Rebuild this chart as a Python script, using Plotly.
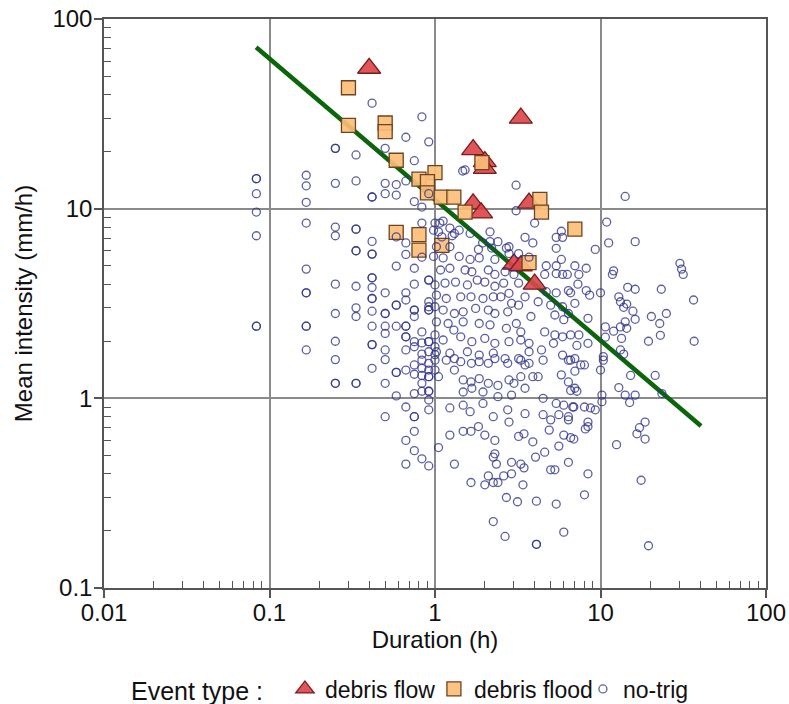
import plotly.graph_objects as go

# ---------------- data ----------------
# Debris-flow events (duration h, mean intensity mm/h)
flow_duration = [0.4, 3.3, 1.7, 2.0, 2.0, 1.7, 1.9, 3.7, 3.0, 3.3, 4.0]
flow_intensity = [55, 30, 20.5, 17.7, 16.3, 10.6, 9.5, 10.7, 5.1, 5.0, 4.0]

# Debris-flood events
flood_duration = [0.3, 0.3, 0.5, 0.5, 0.583, 0.8, 1.0, 0.9, 0.9, 1.09, 1.3, 1.52,
                  1.92, 4.3, 4.4, 7.0, 0.583, 0.8, 0.8, 1.1, 3.7]
flood_intensity = [43.4, 27.5, 28.3, 25.5, 18.0, 14.3, 15.5, 13.9, 12.1, 11.5, 11.5, 9.6,
                   17.5, 11.2, 9.6, 7.8, 7.5, 7.3, 6.05, 6.4, 5.2]

# No-trigger events with short (5-minute step) durations: duration -> intensities
notrig_columns = {
    0.0833: [14.4, 14.4, 12, 9.6, 7.2, 2.4, 2.4],
    0.1667: [15, 13.2, 10.8, 8.4, 4.8, 3.6, 3.6, 2.4, 2.4, 1.8],
    0.25: [20.8, 20.8, 13.6, 8.0, 7.2, 4.0, 2.8, 2.0, 1.6, 1.2, 1.2],
    0.3333: [19.2, 14.0, 7.8, 7.8, 6.0, 6.0, 3.9, 3.0, 2.7, 1.2, 1.2],
    0.4167: [36, 11.52, 11.52, 6.72, 5.76, 5.76, 4.32, 4.32, 3.84, 3.36, 3.36, 2.88,
             2.4, 1.92, 1.92, 1.44],
    0.5: [20.8, 13.6, 12.0, 3.6, 2.8, 2.8, 2.4, 2.2, 1.8, 1.6, 1.2, 0.8],
    0.5833: [13.4, 11.8, 7.1, 4.98, 3.1, 3.1, 2.4, 1.37, 1.37, 1.03],
    0.6667: [23.8, 14.0, 6.6, 5.74, 3.6, 3.3, 2.4, 2.4, 2.11, 2.11, 1.8, 1.41, 0.9, 0.6, 0.45],
    0.75: [17.9, 10.9, 4.85, 4.0, 2.92, 2.92, 2.7, 1.99, 1.87, 1.50, 1.34, 1.06, 0.8, 0.8,
           0.67, 0.53],
    0.8333: [30.5, 10.2, 8.4, 5.55, 2.24, 1.96, 1.71, 1.59, 1.44, 1.32, 1.2, 1.09, 0.48],
    0.9167: [22.5, 12.0, 4.2, 4.2, 3.23, 3.04, 2.92, 2.92, 1.99, 1.99, 1.76, 1.53, 1.41,
             1.30, 1.30, 1.09, 1.09, 0.98, 0.87, 0.44],
    1.0: [8.4, 3.96, 3.04, 1.87, 1.7, 1.59, 1.41],
}

# No-trigger events, durations 1-10 h (duration, intensity)
notrig_mid = [
    (1.05, 0.55), (1.47, 15.8), (1.52, 16.0), (3.09, 13.3), (3.09, 9.75),
    (5.4, 7.06), (5.9, 7.06), (4.0, 8.4), (2.15, 7.55), (3.5, 7.06), (3.9, 6.6), (5.4, 6.18), (5.8, 7.6),
    (1.12, 8.6), (1.07, 8.4), (1.23, 7.9), (1.05, 7.55), (0.98, 7.7), (1.1, 7.1), (1.27, 7.2), (1.31, 7.4),
    (1.40, 7.7), (1.63, 7.4), (1.94, 6.6), (2.15, 6.7), (2.4, 6.7), (2.7, 6.2), (2.8, 6.3), (2.2, 6.2),
    (1.83, 6.1), (1.23, 6.3), (1.02, 6.3),
    (0.98, 5.6), (1.12, 5.5), (1.40, 5.6), (1.63, 5.4), (1.85, 5.5), (2.3, 5.4), (2.8, 5.8), (3.2, 5.8),
    (3.7, 5.55), (4.7, 5.0), (5.4, 5.0), (5.8, 5.4), (6.3, 4.5), (7.0, 5.0), (5.4, 4.55), (5.9, 4.5),
    (1.08, 4.75), (1.23, 4.85), (1.52, 4.75), (1.67, 4.65), (2.1, 4.75), (2.3, 4.5), (2.65, 4.65),
    (3.0, 4.5), (4.6, 4.5),
    (1.15, 4.05), (1.33, 4.1), (1.57, 3.96), (1.8, 4.2), (2.0, 4.1), (2.3, 3.9), (2.6, 4.05), (3.2, 4.05),
    (4.7, 3.65), (5.4, 3.6), (6.4, 3.7),
    (1.02, 3.5), (1.17, 3.36), (1.43, 3.43), (1.65, 3.43), (1.95, 3.36), (2.25, 3.43), (2.5, 3.43),
    (2.8, 3.58), (3.5, 3.43), (4.2, 3.23), (5.0, 3.1), (5.9, 3.04), (7.0, 3.17),
    (1.12, 2.92), (1.31, 2.8), (1.48, 2.86), (1.76, 2.98), (2.1, 2.92), (2.3, 2.8), (2.75, 2.86),
    (2.9, 3.17), (3.2, 3.1), (3.8, 2.7), (5.3, 2.75), (6.0, 2.6),
    (1.02, 2.53), (1.2, 2.48), (1.3, 2.29), (1.48, 2.53), (1.85, 2.48), (2.15, 2.44), (2.7, 2.34),
    (3.1, 2.48), (3.3, 2.24), (4.6, 2.24), (5.3, 2.16), (5.9, 2.11), (6.6, 2.16), (7.4, 2.16),
    (1.0, 2.16), (1.12, 2.03), (1.43, 2.11), (1.67, 1.99), (2.0, 2.07), (2.3, 1.95), (2.8, 1.99),
    (3.3, 2.03), (3.7, 1.95), (4.4, 1.8), (5.2, 1.95),
    (1.02, 1.76), (1.23, 1.73), (1.57, 1.76), (1.85, 1.69), (2.25, 1.73), (2.65, 1.62), (3.2, 1.62),
    (3.7, 1.76), (5.9, 1.69), (7.0, 1.62),
    (1.66, 1.53), (2.75, 1.53), (3.7, 1.53),
    (1.17, 1.59), (1.31, 1.62), (1.43, 1.56), (1.31, 1.41), (1.05, 1.30),
    (1.85, 1.56), (2.1, 1.53), (2.3, 1.62), (3.3, 1.59), (3.5, 1.5), (4.5, 1.59), (6.4, 1.59),
    (1.48, 1.25), (1.65, 1.22), (1.85, 1.27), (2.1, 1.2), (2.4, 1.17), (2.8, 1.25), (3.0, 1.2),
    (3.3, 1.3), (3.9, 1.3), (4.2, 1.3), (5.8, 1.33), (6.4, 1.22), (7.0, 1.13),
    (1.48, 1.08), (1.67, 1.13), (1.95, 1.08), (2.4, 1.02), (2.9, 1.04), (3.5, 1.13), (4.5, 1.0),
    (5.4, 0.94), (6.0, 0.92),
    (1.23, 0.89), (1.48, 0.92), (1.63, 0.85), (1.95, 0.94), (2.25, 0.8), (2.75, 0.87), (2.8, 0.75),
    (3.5, 0.83), (4.5, 0.82), (5.0, 0.77), (5.6, 0.82), (6.4, 0.77), (6.8, 0.9),
    (1.23, 0.64), (1.48, 0.67), (1.65, 0.67), (1.83, 0.71), (2.0, 0.64), (2.3, 0.6), (3.2, 0.63),
    (3.45, 0.65), (3.9, 0.59), (4.9, 0.68), (5.6, 0.56), (6.0, 0.64), (6.9, 0.61),
    (2.3, 0.51), (2.25, 0.49), (2.35, 0.45), (2.9, 0.46), (3.3, 0.45), (3.45, 0.43), (4.05, 0.49),
    (4.6, 0.52), (5.0, 0.42), (5.3, 0.42), (6.4, 0.46), (1.31, 0.45),
    (1.65, 0.36), (2.1, 0.39), (2.0, 0.35), (2.25, 0.36), (2.4, 0.36), (2.6, 0.39), (2.9, 0.40),
    (3.4, 0.35),
    (2.7, 0.30), (3.15, 0.285), (4.1, 0.287), (5.4, 0.277), (2.25, 0.224), (2.65, 0.187),
    (4.1, 0.17), (4.1, 0.17), (6.0, 0.197),
]

# No-trigger events, long durations
notrig_long = [
    (14.1, 11.6), (10.9, 8.5), (11.2, 6.6), (16.2, 6.7), (9.3, 6.1), (30.2, 5.15), (30.9, 4.8),
    (31.6, 4.5), (12.0, 4.7), (11.8, 4.5), (8.2, 4.85), (7.4, 4.5), (7.3, 4.0), (14.6, 3.85),
    (16.2, 3.76), (23.3, 3.76), (10, 3.6), (8.2, 3.7), (8.6, 3.5), (6.6, 3.6), (12.9, 3.43),
    (13.2, 3.23), (14.4, 3.14), (13.8, 3.02), (15.7, 2.88), (16.2, 2.61), (36.5, 3.3), (20.3, 2.7),
    (22.8, 2.48), (25, 2.8), (23, 2.15), (8.4, 2.64), (6.4, 2.8), (10.7, 2.38), (12.0, 2.26),
    (14.1, 2.53), (13.2, 2.38), (14.4, 2.34), (13.4, 2.07), (19.5, 2.0), (36.8, 2.0), (8.4, 1.95),
    (7.2, 1.9), (10.7, 2.1), (13.2, 1.8), (13.8, 1.71), (10.4, 1.66), (10.4, 1.59),
    (6.6, 1.59), (7.0, 1.39), (7.6, 1.50), (8.0, 1.50), (10, 1.41),
    (6.6, 1.1), (7.2, 1.09), (6.9, 0.9), (8.0, 0.9), (8.7, 0.89), (9.3, 0.87), (6.4, 0.8),
    (10.2, 1.04), (10.2, 0.96), (12.9, 1.14), (14.1, 1.04), (16.2, 1.04), (15, 0.95), (15.2, 1.32),
    (21.4, 1.32), (23.5, 1.06), (18.6, 0.75), (17.2, 0.70), (16.6, 0.65), (18.6, 0.61), (12.5, 0.57),
    (8.4, 0.75), (8.1, 0.69), (8.4, 0.71), (6.6, 0.62), (8.4, 0.40), (8.0, 0.31), (17.6, 0.37),
    (19.5, 0.167),
]

# Threshold line end points
threshold_duration = [0.083, 40.5]
threshold_intensity = [71, 0.714]

x_tick_vals = [0.01, 0.1, 1, 10, 100]
x_tick_text = ["0.01", "0.1", "1", "10", "100"]
y_tick_vals = [0.1, 1, 10, 100]
y_tick_text = ["0.1", "1", "10", "100"]

# ---------------- build ----------------
notrig_duration = []
notrig_intensity = []
for d, vals in notrig_columns.items():
    for v in vals:
        notrig_duration.append(d)
        notrig_intensity.append(v)
for d, v in notrig_mid + notrig_long:
    notrig_duration.append(d)
    notrig_intensity.append(v)

FONT = "Liberation Sans, Arial, sans-serif"
AX = "#555555"
GRID = "#8a8a8a"
FS = 24
W, H = 789, 704

fig = go.Figure()
fig.add_trace(go.Scatter(
    x=threshold_duration, y=threshold_intensity, mode="lines",
    line=dict(color="#0b650b", width=4.5), showlegend=False, hoverinfo="skip"))
fig.add_trace(go.Scatter(
    x=flow_duration, y=flow_intensity, mode="markers", name="debris flow",
    marker=dict(symbol="triangle-up", size=20, color="rgba(220,70,75,0.92)",
                line=dict(color="#7a1c1c", width=1.3))))
fig.add_trace(go.Scatter(
    x=flood_duration, y=flood_intensity, mode="markers", name="debris flood",
    marker=dict(symbol="square", size=14, color="rgba(252,190,120,0.92)",
                line=dict(color="#6b4420", width=1.3))))
fig.add_trace(go.Scatter(
    x=notrig_duration, y=notrig_intensity, mode="markers", name="no-trig",
    marker=dict(symbol="circle-open", size=8, color="rgba(45,50,140,0.78)",
                line=dict(width=1.3))))

minor_x = [m * 10 ** e for e in (-2, -1, 0, 1) for m in range(2, 10)]
minor_y = [m * 10 ** e for e in (-1, 0, 1) for m in range(2, 10)]

fig.update_layout(
    width=W, height=H,
    margin=dict(l=104, r=23, t=19, b=116, autoexpand=False),
    plot_bgcolor="white", paper_bgcolor="white",
    font=dict(family=FONT, size=FS, color="#111111"),
    showlegend=True,
    legend=dict(orientation="h", xref="container", yref="container",
                x=0.1635, xanchor="left", y=0.0213, yanchor="middle",
                title=dict(text="Event type :  ", side="left", font=dict(size=25)),
                font=dict(size=23), itemsizing="trace", tracegroupgap=0,
                entrywidthmode="pixels", entrywidth=104,
                bgcolor="rgba(0,0,0,0)"),
)
fig.update_xaxes(
    type="log", range=[-2, 2], tickvals=x_tick_vals, ticktext=x_tick_text,
    ticks="outside", ticklen=8, tickwidth=1.5, tickcolor=AX, automargin=False,
    ticklabelstandoff=-6, ticklabeloverflow="allow",
    showline=True, linecolor=AX, linewidth=1.5, mirror=True,
    showgrid=True, gridcolor=GRID, gridwidth=1.5, zeroline=False,
    minor=dict(tickmode="array", tickvals=minor_x, ticks="inside", ticklen=7,
               tickwidth=1.3, tickcolor=AX, showgrid=False),
    title=dict(text="Duration (h)", standoff=4, font=dict(size=FS)),
)
fig.update_yaxes(
    type="log", range=[-1, 2], tickvals=y_tick_vals, ticktext=y_tick_text,
    ticks="outside", ticklen=8, tickwidth=1.5, tickcolor=AX, automargin=False,
    ticklabelstandoff=-3, ticklabeloverflow="allow",
    showline=True, linecolor=AX, linewidth=1.5, mirror=True,
    showgrid=True, gridcolor=GRID, gridwidth=1.5, zeroline=False,
    minor=dict(tickmode="array", tickvals=minor_y, ticks="inside", ticklen=7,
               tickwidth=1.3, tickcolor=AX, showgrid=False),
    title=dict(text="Mean intensity (mm/h)", standoff=13, font=dict(size=FS)),
)

fig.write_html(
    "out.html",
    config={"displayModeBar": False},
    post_script="document.body.style.margin='0';document.body.style.overflow='hidden';",
)
